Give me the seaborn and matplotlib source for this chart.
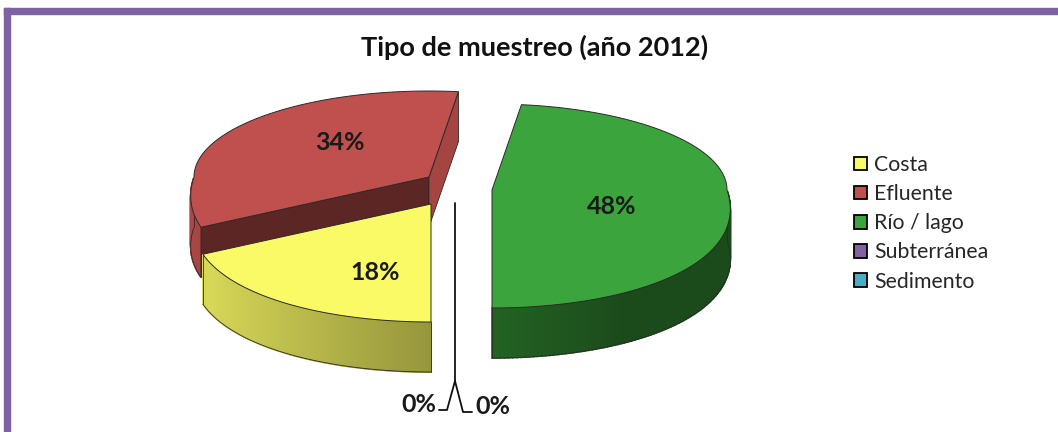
import numpy as np
import matplotlib.pyplot as plt
import seaborn as sns
from matplotlib.patches import Polygon, Rectangle, Patch
from matplotlib.colors import to_rgb

# Data
categories = ["Costa", "Efluente", "Río / lago", "Subterránea", "Sedimento"]
shares = [18, 34, 48, 0, 0]
colors = ["#FAFA66", "#C0504D", "#3CA43C", "#8064A2", "#4BACC6"]
title = "Tipo de muestreo (año 2012)"

# Layout of the fake 3D pie (pixel coords, y down)
start_angle = -90.0          # first slice starts at 6 o'clock, clockwise
centres = [(431, 204), (429, 177), (492, 190), (455, 203), (455, 203)]
label_offsets = [(-56, 69), (-89, -34), (120, 16)]
depth = 50
draw_order = [1, 2, 0]

sns.set_theme(style="white")
plt.rcParams['font.family'] = ['Lato', 'DejaVu Sans']

fig = plt.figure(figsize=(10.58, 4.32), dpi=100)
ax = fig.add_axes([0, 0, 1, 1])
ax.set_xlim(0, 1058)
ax.set_ylim(432, 0)
ax.axis('off')

# purple frame (only top and left visible)
ax.add_patch(Rectangle((4, 8), 1054, 6, color="#7F62A1", zorder=0))
ax.add_patch(Rectangle((4, 8), 6, 424, color="#7F62A1", zorder=0))


def rim(cx, cy, t):
    t = np.radians(t)
    s = np.sin(t)
    a = 235 + 40 * np.maximum(0, -s)
    b = np.where(s > 0, 86, 118)
    return cx + a * np.cos(t), cy - b * s


def shade(col, f):
    return tuple(np.clip(np.array(to_rgb(col)) * f, 0, 1))


cum = np.concatenate([[0], np.cumsum(shares)])
spans = [(start_angle - 3.6 * cum[i], start_angle - 3.6 * cum[i + 1]) for i in range(len(shares))]

for z, i in enumerate(draw_order):
    t1, t2 = spans[i]
    cx, cy = centres[i]
    col = colors[i]
    zb = 2 + z * 3
    # outer wall, front half only
    th = np.linspace(t2, t1, 200)
    vis = np.sin(np.radians(th)) < 0
    xs, ys = rim(cx, cy, th)
    for k in range(len(th) - 1):
        if not (vis[k] and vis[k + 1]):
            continue
        fct = max(0.45, 0.6 + 0.3 * (-np.cos(np.radians(th[k]))))
        c = shade(col, fct)
        q = [(xs[k], ys[k]), (xs[k + 1], ys[k + 1]),
             (xs[k + 1], ys[k + 1] + depth), (xs[k], ys[k] + depth)]
        ax.add_patch(Polygon(q, closed=True, facecolor=c, edgecolor=c, lw=1.2, zorder=zb))
    if vis.any():
        ax.plot(xs[vis], ys[vis] + depth, color="#2a2a2a", lw=0.6, zorder=zb)
        ends = np.where(np.diff(vis.astype(int)) != 0)[0].tolist()
        ends += ([0] if vis[0] else []) + ([len(th) - 1] if vis[-1] else [])
        for k in ends:
            ax.plot([xs[k], xs[k]], [ys[k], ys[k] + depth], color="#2a2a2a", lw=0.6, zorder=zb)
    # radial faces that point at the viewer
    for t, sign, f in [(t1, -1, 0.48), (t2, 1, 0.86)]:
        if sign * np.cos(np.radians(t)) <= 0.01:
            continue
        px, py = rim(cx, cy, t)
        face = [(cx, cy), (px, py), (px, py + depth), (cx, cy + depth)]
        ax.add_patch(Polygon(face, closed=True, facecolor=shade(col, f),
                             edgecolor="#2a2a2a", lw=0.6, zorder=zb + 1))
    # top face
    top = [(cx, cy)] + list(zip(xs, ys))
    ax.add_patch(Polygon(top, closed=True, facecolor=col, edgecolor="#2a2a2a", lw=0.7, zorder=zb + 2))
    ax.text(cx + label_offsets[i][0], cy + label_offsets[i][1], f"{shares[i]}%",
            ha="center", va="center", fontsize=18, fontweight="bold", color="#1a1a1a", zorder=20)

# leader lines for the two empty slices
lx, ly = rim(*centres[3], spans[3][0])
ax.plot([lx, lx, lx - 8, lx - 16], [centres[3][1], 381, 410, 410], color="#111111", lw=1.3, zorder=15)
ax.plot([lx, lx + 8, lx + 17], [381, 412, 412], color="#111111", lw=1.3, zorder=15)
ax.text(lx - 19, 405, f"{shares[3]}%", ha="right", va="center", fontsize=18, fontweight="bold", color="#1a1a1a")
ax.text(lx + 20, 407, f"{shares[4]}%", ha="left", va="center", fontsize=18, fontweight="bold", color="#1a1a1a")

ax.text(535, 47, title, ha="center", va="center", fontsize=19.5, fontweight="bold", color="#111111")

handles = [Patch(facecolor=c, edgecolor="black", lw=1.3) for c in colors]
ax.legend(handles, categories, loc="upper left", bbox_to_anchor=(854 / 1058, 1 - 155 / 432),
          frameon=False, fontsize=15.3, handlelength=0.6, handleheight=0.6,
          handletextpad=0.35, labelspacing=0.43, borderpad=0, borderaxespad=0)

fig.savefig("out.png", dpi=100)
